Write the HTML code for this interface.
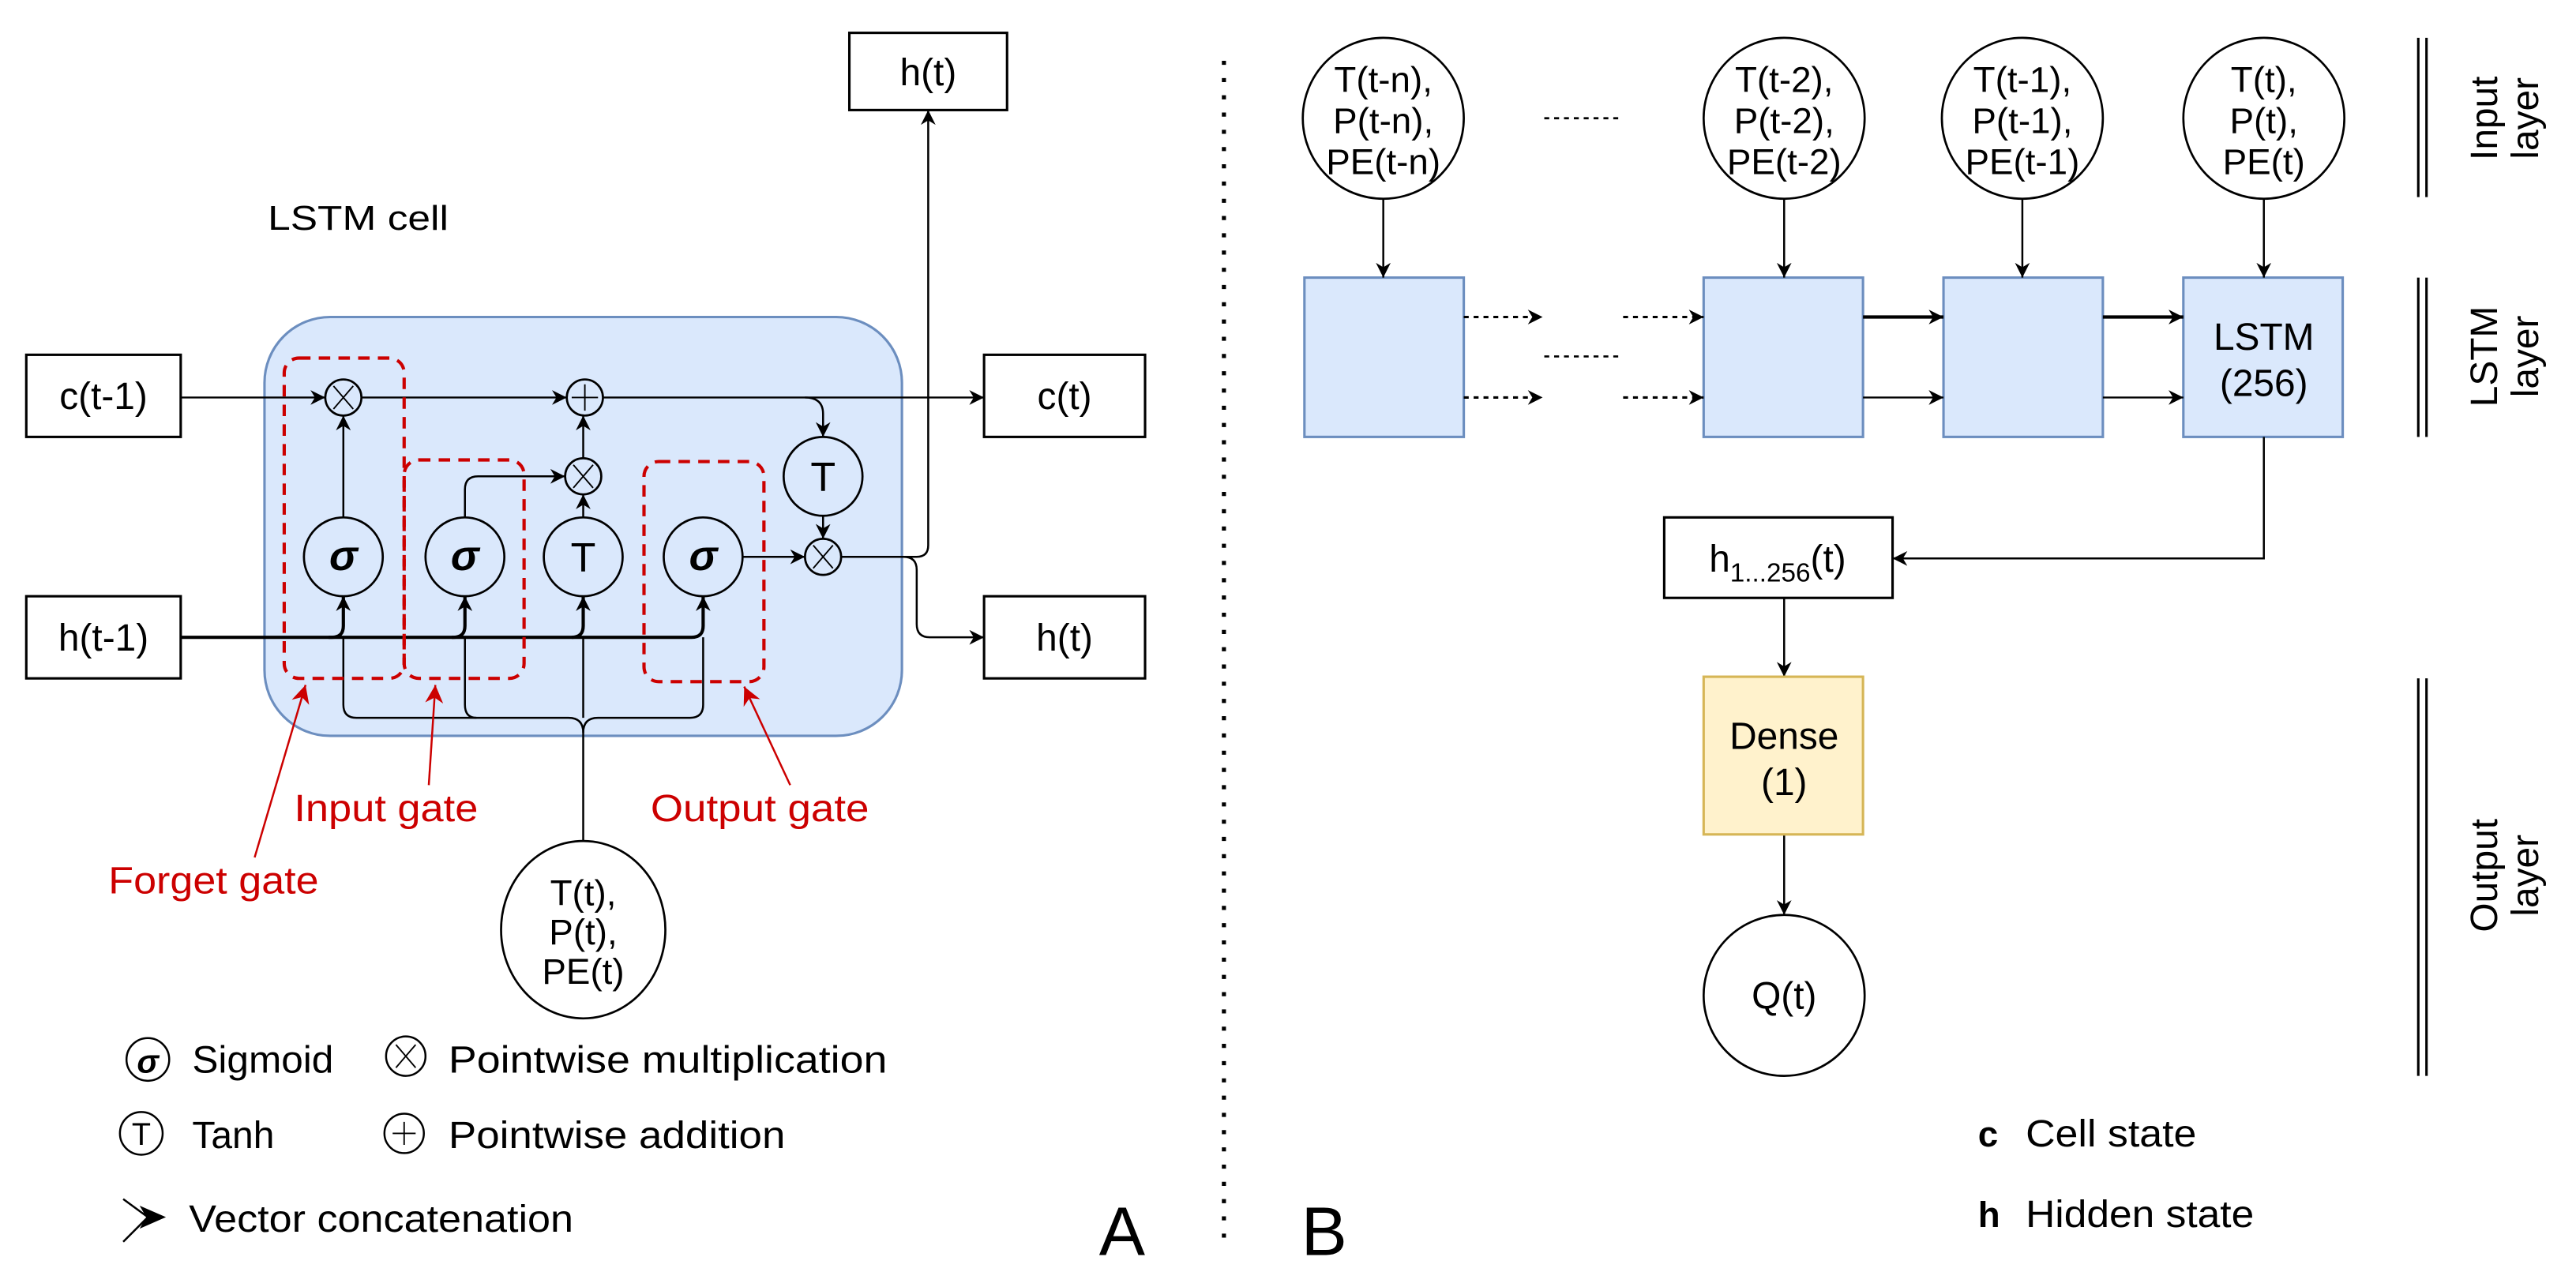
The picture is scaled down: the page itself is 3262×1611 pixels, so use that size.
<!DOCTYPE html>
<html><head><meta charset="utf-8"><style>
html,body{margin:0;padding:0;background:#fff;}
svg{display:block;}
text{font-family:"Liberation Sans","DejaVu Sans",sans-serif;fill:#000;}
</style></head><body>
<svg width="3262" height="1611" viewBox="0 0 1568 774.4" preserveAspectRatio="none" xmlns="http://www.w3.org/2000/svg">
<defs>
<marker id="a" viewBox="0 0 10 10" refX="10" refY="5" markerWidth="9" markerHeight="9" markerUnits="userSpaceOnUse" orient="auto">
<path d="M0,0 L10,5 L0,10 L3,5 Z" fill="#000"/></marker>
<marker id="r" viewBox="0 0 10 10" refX="10" refY="5" markerWidth="11" markerHeight="11" markerUnits="userSpaceOnUse" orient="auto">
<path d="M0,0 L10,5 L0,10 L3,5 Z" fill="#cc0000"/></marker>
</defs>
<rect width="1568" height="774.4" fill="#fff"/>

<!-- LEFT PANEL -->
<rect x="517" y="20" width="96" height="47" fill="#fff" stroke="#000" stroke-width="1.5"/>
<text x="565" y="52" font-size="23" text-anchor="middle">h(t)</text>
<text x="163" y="140" font-size="21" textLength="110" lengthAdjust="spacingAndGlyphs">LSTM  cell</text>

<rect x="161" y="193" width="388" height="255" rx="40" fill="#dae8fc" stroke="#6c8ebf" stroke-width="1.5"/>

<rect x="16" y="216" width="94" height="50" fill="#fff" stroke="#000" stroke-width="1.5"/>
<text x="63" y="249" font-size="23" text-anchor="middle">c(t-1)</text>
<rect x="599" y="216" width="98" height="50" fill="#fff" stroke="#000" stroke-width="1.5"/>
<text x="648" y="249" font-size="23" text-anchor="middle">c(t)</text>
<rect x="16" y="363" width="94" height="50" fill="#fff" stroke="#000" stroke-width="1.5"/>
<text x="63" y="396" font-size="23" text-anchor="middle">h(t-1)</text>
<rect x="599" y="363" width="98" height="50" fill="#fff" stroke="#000" stroke-width="1.5"/>
<text x="648" y="396" font-size="23" text-anchor="middle">h(t)</text>

<g fill="none" stroke="#000" stroke-width="1.2">
<path d="M110,242 H198" marker-end="url(#a)"/>
<path d="M220,242 H345" marker-end="url(#a)"/>
<path d="M367,242 H599" marker-end="url(#a)"/>
<path d="M490,242 Q501,242 501,252 V266" marker-end="url(#a)"/>
<path d="M209,315 V253" marker-end="url(#a)"/>
<path d="M283,315 V298 Q283,290 291,290 H344" marker-end="url(#a)"/>
<path d="M355,315 V301" marker-end="url(#a)"/>
<path d="M355,279 V253" marker-end="url(#a)"/>
<path d="M501,314 V328" marker-end="url(#a)"/>
<path d="M452,339 H490" marker-end="url(#a)"/>
<path d="M512,339 H558 Q565,339 565,332 V67" marker-end="url(#a)"/>
<path d="M550,339 Q558,339 558,347 V380 Q558,388 566,388 H599" marker-end="url(#a)"/>
<path d="M110,388 H202 Q209,388 209,381 V363" marker-end="url(#a)" stroke-width="2"/>
<path d="M200,388 H276 Q283,388 283,381 V363" marker-end="url(#a)" stroke-width="2"/>
<path d="M275,388 H348 Q355,388 355,381 V363" marker-end="url(#a)" stroke-width="2"/>
<path d="M348,388 H421 Q428,388 428,381 V363" marker-end="url(#a)" stroke-width="2"/>
<path d="M355,512 V446 Q355,437 346,437 H217 Q209,437 209,429 V388"/>
<path d="M355,446 Q355,437 364,437 H420 Q428,437 428,429 V388"/>
<path d="M290,437 Q283,437 283,429 V388"/>
<path d="M355,437 V388"/>
</g>

<g fill="#dae8fc" stroke="#000" stroke-width="1.3">
<circle cx="209" cy="339" r="24"/><circle cx="283" cy="339" r="24"/>
<circle cx="355" cy="339" r="24"/><circle cx="428" cy="339" r="24"/>
<circle cx="501" cy="290" r="24"/>
<circle cx="209" cy="242" r="11"/><circle cx="356" cy="242" r="11"/>
<circle cx="355" cy="290" r="11"/><circle cx="501" cy="339" r="11"/>
</g>
<g stroke="#000" stroke-width="0.9">
<path d="M203,235 L215,249 M215,235 L203,249"/>
<path d="M349,283 L361,297 M361,283 L349,297"/>
<path d="M495,332 L507,346 M507,332 L495,346"/>
<path d="M356,234 V250 M348,242 H364"/>
</g>
<g font-size="26" font-weight="bold" font-style="italic" text-anchor="middle">
<text x="209" y="347">σ</text><text x="283" y="347">σ</text><text x="428" y="347">σ</text></g>
<text x="355" y="348" font-size="25" text-anchor="middle">T</text>
<text x="501" y="299" font-size="25" text-anchor="middle">T</text>

<g fill="none" stroke="#cc0000" stroke-width="2" stroke-dasharray="7,5">
<rect x="173" y="218" width="73" height="195" rx="9"/>
<rect x="246" y="280" width="73" height="133" rx="9"/>
<rect x="392" y="281" width="73" height="134" rx="9"/>
</g>
<g stroke="#cc0000" stroke-width="1.2" fill="none">
<path d="M155,522 L186,417" marker-end="url(#r)"/>
<path d="M261,478 L265,417" marker-end="url(#r)"/>
<path d="M481,478 L453,418" marker-end="url(#r)"/>
</g>
<g font-size="23">
<text x="66" y="544" style="fill:#cc0000" textLength="128" lengthAdjust="spacingAndGlyphs">Forget gate</text>
<text x="179" y="500" style="fill:#cc0000" textLength="112" lengthAdjust="spacingAndGlyphs">Input gate</text>
<text x="396" y="500" style="fill:#cc0000" textLength="133" lengthAdjust="spacingAndGlyphs">Output gate</text>
</g>

<ellipse cx="355" cy="566" rx="50" ry="54" fill="#fff" stroke="#000" stroke-width="1.3"/>
<g font-size="22" text-anchor="middle"><text x="355" y="551">T(t),</text><text x="355" y="575">P(t),</text><text x="355" y="599">PE(t)</text></g>

<!-- legend -->
<g fill="#fff" stroke="#000" stroke-width="1.2">
<circle cx="90" cy="645" r="13"/><circle cx="86" cy="690" r="13"/>
<circle cx="247" cy="643" r="12"/><circle cx="246" cy="690" r="12"/></g>
<g stroke="#000" stroke-width="0.9"><path d="M241,636 L253,650 M253,636 L241,650"/><path d="M246,683 V697 M239,690 H253"/></g>
<text x="90" y="653" font-size="20" font-weight="bold" font-style="italic" text-anchor="middle">σ</text>
<text x="86" y="697" font-size="19" text-anchor="middle">T</text>
<g font-size="23">
<text x="117" y="653" textLength="86" lengthAdjust="spacingAndGlyphs">Sigmoid</text>
<text x="273" y="653" textLength="267" lengthAdjust="spacingAndGlyphs">Pointwise multiplication</text>
<text x="117" y="699" textLength="50" lengthAdjust="spacingAndGlyphs">Tanh</text>
<text x="273" y="699" textLength="205" lengthAdjust="spacingAndGlyphs">Pointwise addition</text>
<text x="115" y="750" textLength="234" lengthAdjust="spacingAndGlyphs">Vector concatenation</text></g>
<path d="M75,730 L90,741 L75,756" fill="none" stroke="#000" stroke-width="1.2"/>
<path d="M85,734 L101,741 L85,748 L89,741 Z" fill="#000"/>
<text x="683" y="764" font-size="42" text-anchor="middle">A</text>

<line x1="745" y1="37" x2="745" y2="756" stroke="#000" stroke-width="2.5" stroke-dasharray="2.5,8"/>

<!-- RIGHT PANEL -->
<text x="806" y="764" font-size="42" text-anchor="middle">B</text>
<g fill="#fff" stroke="#000" stroke-width="1.3">
<ellipse cx="842" cy="72" rx="49" ry="49"/><ellipse cx="1086" cy="72" rx="49" ry="49"/>
<ellipse cx="1231" cy="72" rx="49" ry="49"/><ellipse cx="1378" cy="72" rx="49" ry="49"/></g>
<g font-size="22" text-anchor="middle">
<text x="842" y="56">T(t-n),</text><text x="842" y="81">P(t-n),</text><text x="842" y="106">PE(t-n)</text>
<text x="1086" y="56">T(t-2),</text><text x="1086" y="81">P(t-2),</text><text x="1086" y="106">PE(t-2)</text>
<text x="1231" y="56">T(t-1),</text><text x="1231" y="81">P(t-1),</text><text x="1231" y="106">PE(t-1)</text>
<text x="1378" y="56">T(t),</text><text x="1378" y="81">P(t),</text><text x="1378" y="106">PE(t)</text>
</g>
<g stroke="#000" stroke-width="1.3" stroke-dasharray="3,3"><line x1="940" y1="72" x2="988" y2="72"/><line x1="940" y1="217" x2="988" y2="217"/></g>
<g fill="#dae8fc" stroke="#6c8ebf" stroke-width="1.5">
<rect x="794" y="169" width="97" height="97"/><rect x="1037" y="169" width="97" height="97"/>
<rect x="1183" y="169" width="97" height="97"/><rect x="1329" y="169" width="97" height="97"/></g>
<text x="1378" y="213" font-size="23" text-anchor="middle">LSTM</text>
<text x="1378" y="241" font-size="23" text-anchor="middle">(256)</text>
<g fill="none" stroke="#000" stroke-width="1.2">
<path d="M842,121 V169" marker-end="url(#a)"/><path d="M1086,121 V169" marker-end="url(#a)"/>
<path d="M1231,121 V169" marker-end="url(#a)"/><path d="M1378,121 V169" marker-end="url(#a)"/>
<g stroke-dasharray="3,3" stroke-width="1.5">
<path d="M891,193 H939" marker-end="url(#a)"/><path d="M891,242 H939" marker-end="url(#a)"/>
<path d="M988,193 H1037" marker-end="url(#a)"/><path d="M988,242 H1037" marker-end="url(#a)"/></g>
<path d="M1134,193 H1183" marker-end="url(#a)" stroke-width="2"/><path d="M1134,242 H1183" marker-end="url(#a)"/>
<path d="M1280,193 H1329" marker-end="url(#a)" stroke-width="2"/><path d="M1280,242 H1329" marker-end="url(#a)"/>
<path d="M1378,266 V340 H1152" marker-end="url(#a)"/>
<path d="M1086,364 V412" marker-end="url(#a)"/>
<path d="M1086,508 V557" marker-end="url(#a)"/>
</g>
<rect x="1013" y="315" width="139" height="49" fill="#fff" stroke="#000" stroke-width="1.5"/>
<text x="1082" y="348" font-size="23" text-anchor="middle">h<tspan font-size="16" dy="6">1...256</tspan><tspan dy="-6">(t)</tspan></text>
<rect x="1037" y="412" width="97" height="96" fill="#fff2cc" stroke="#d6b656" stroke-width="1.5"/>
<text x="1086" y="456" font-size="23" text-anchor="middle">Dense</text>
<text x="1086" y="484" font-size="23" text-anchor="middle">(1)</text>
<circle cx="1086" cy="606" r="49" fill="#fff" stroke="#000" stroke-width="1.3"/>
<text x="1086" y="614" font-size="23" text-anchor="middle">Q(t)</text>

<g stroke="#000" stroke-width="1.5">
<line x1="1472" y1="23" x2="1472" y2="120"/><line x1="1477" y1="23" x2="1477" y2="120"/>
<line x1="1472" y1="169" x2="1472" y2="266"/><line x1="1477" y1="169" x2="1477" y2="266"/>
<line x1="1472" y1="413" x2="1472" y2="655"/><line x1="1477" y1="413" x2="1477" y2="655"/></g>
<g font-size="23" text-anchor="middle">
<text transform="translate(1524,72) rotate(-90)"><tspan x="0" y="-4">Input</tspan><tspan x="0" y="21">layer</tspan></text>
<text transform="translate(1524,217) rotate(-90)"><tspan x="0" y="-4">LSTM</tspan><tspan x="0" y="21">layer</tspan></text>
<text transform="translate(1524,533) rotate(-90)"><tspan x="0" y="-4">Output</tspan><tspan x="0" y="21">layer</tspan></text>
</g>
<text x="1204" y="698" font-size="22" font-weight="bold">c</text>
<text x="1233" y="698" font-size="23" textLength="104" lengthAdjust="spacingAndGlyphs">Cell state</text>
<text x="1204" y="747" font-size="22" font-weight="bold">h</text>
<text x="1233" y="747" font-size="23" textLength="139" lengthAdjust="spacingAndGlyphs">Hidden state</text>
</svg>
</body></html>
